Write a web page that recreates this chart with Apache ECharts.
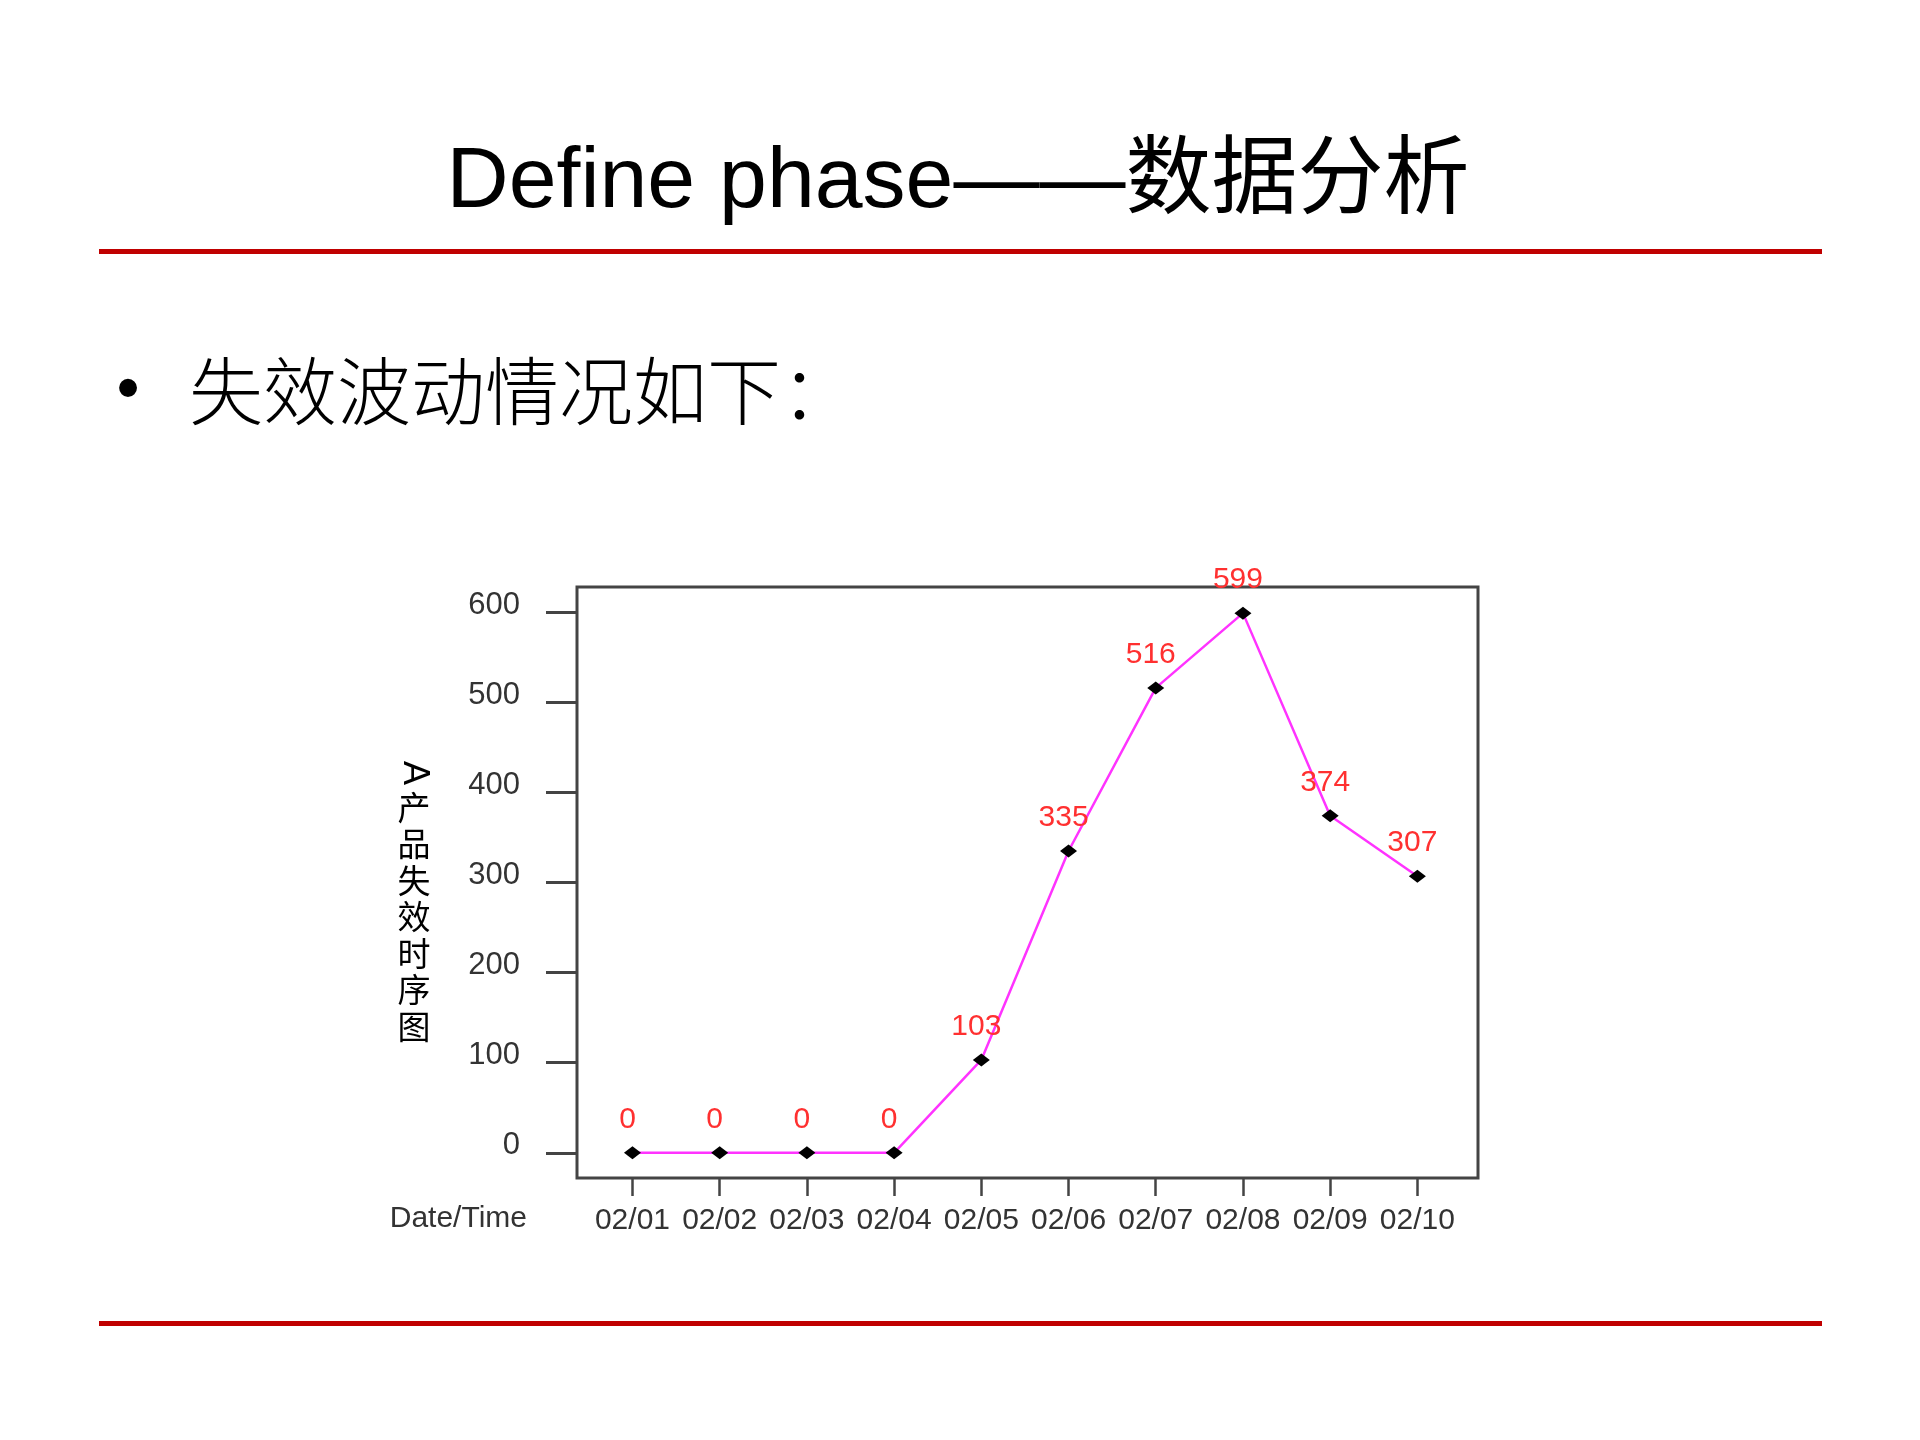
<!DOCTYPE html>
<html>
<head>
<meta charset="utf-8">
<script src="https://cdn.jsdelivr.net/npm/echarts@6/dist/echarts.min.js"></script>
<style>
html,body{margin:0;padding:0;background:#fff;}
#main{width:1920px;height:1440px;}
</style>
</head>
<body>
<div id="main"></div>
<script>
// ---- data ----
var categories = ['02/01','02/02','02/03','02/04','02/05','02/06','02/07','02/08','02/09','02/10'];
var failures = [0, 0, 0, 0, 103, 335, 516, 599, 374, 307];
var yTicks = [0, 100, 200, 300, 400, 500, 600];
var titleText = 'Define phase——数据分析';
var bulletText = '失效波动情况如下：';
var yAxisNameChars = ['产','品','失','效','时','序','图'];
var xAxisTitle = 'Date/Time';

var chart = echarts.init(document.getElementById('main'), null, {renderer: 'canvas'});

var seriesData = failures.map(function (v, i) { return [i, v]; });
var xIdx = categories.map(function (c, i) { return i; });

var latin = "'Liberation Sans', Arial, 'Noto Sans CJK SC', sans-serif";
var cjk = "'Noto Sans CJK SC', 'Liberation Sans', sans-serif";

var graphics = [
  { type: 'text', x: 958, y: 183,
    style: { text: titleText, x: 0, y: 0, align: 'center', verticalAlign: 'middle',
             font: "86px " + latin, fill: '#000' } },
  { type: 'rect', shape: { x: 99, y: 249, width: 1723, height: 5 }, style: { fill: '#C00000' } },
  { type: 'text', x: 128, y: 392,
    style: { text: '•', x: 0, y: 0, align: 'center', verticalAlign: 'middle',
             font: "66px " + latin, fill: '#000' } },
  { type: 'text', x: 189, y: 391,
    style: { text: bulletText, x: 0, y: 0, align: 'left', verticalAlign: 'middle',
             font: "300 74px " + cjk, fill: '#000' } },
  { type: 'rect', shape: { x: 99, y: 1321, width: 1723, height: 5 }, style: { fill: '#C00000' } },
  { type: 'text', x: 527, y: 1219,
    style: { text: xAxisTitle, x: 0, y: 0, align: 'right', verticalAlign: 'middle',
             font: "30px " + latin, fill: '#333' } },
  { type: 'text', x: 414, y: 773, rotation: -Math.PI / 2,
    style: { text: 'A', x: 0, y: 0, align: 'center', verticalAlign: 'middle',
             font: "36px " + latin, fill: '#000' } },
  { type: 'text', x: 414, y: 789,
    style: { text: yAxisNameChars.join('\n'), x: 0, y: 0, align: 'center', verticalAlign: 'top',
             font: "33px " + cjk, lineHeight: 36.5, fill: '#000' } }
];

var option = {
  backgroundColor: '#fff',
  animation: false,
  graphic: graphics,
  grid: {
    left: 577, top: 587, width: 901, height: 591,
    show: true, borderColor: '#444', borderWidth: 3, backgroundColor: 'transparent'
  },
  xAxis: {
    type: 'value', min: -0.636, max: 9.695,
    splitLine: { show: false },
    axisLine: { show: false, onZero: false },
    axisTick: { show: true, customValues: xIdx, length: 18, lineStyle: { color: '#444', width: 2.5 } },
    axisLabel: {
      customValues: xIdx, margin: 28, fontSize: 30, color: '#333', fontFamily: latin,
      formatter: function (v) { return categories[Math.round(v)]; }
    }
  },
  yAxis: {
    type: 'value', min: -28, max: 628,
    splitLine: { show: false },
    axisLine: { show: false, onZero: false },
    axisTick: { show: true, customValues: yTicks, length: 31, lineStyle: { color: '#444', width: 3 } },
    axisLabel: { customValues: yTicks, margin: 57, fontSize: 31, color: '#333', fontFamily: latin,
                 verticalAlign: 'bottom', lineHeight: 14 }
  },
  series: [{
    type: 'line',
    data: seriesData,
    symbol: 'diamond',
    symbolSize: [17, 13],
    itemStyle: { color: '#000' },
    lineStyle: { color: '#ff33ff', width: 2.5 },
    label: {
      show: true, position: 'top', distance: 12, offset: [-5, 0],
      color: '#ff3030', fontSize: 30, fontFamily: latin,
      formatter: function (p) { return String(p.value[1]); }
    },
    z: 3
  }]
};
chart.setOption(option);
</script>
</body>
</html>
